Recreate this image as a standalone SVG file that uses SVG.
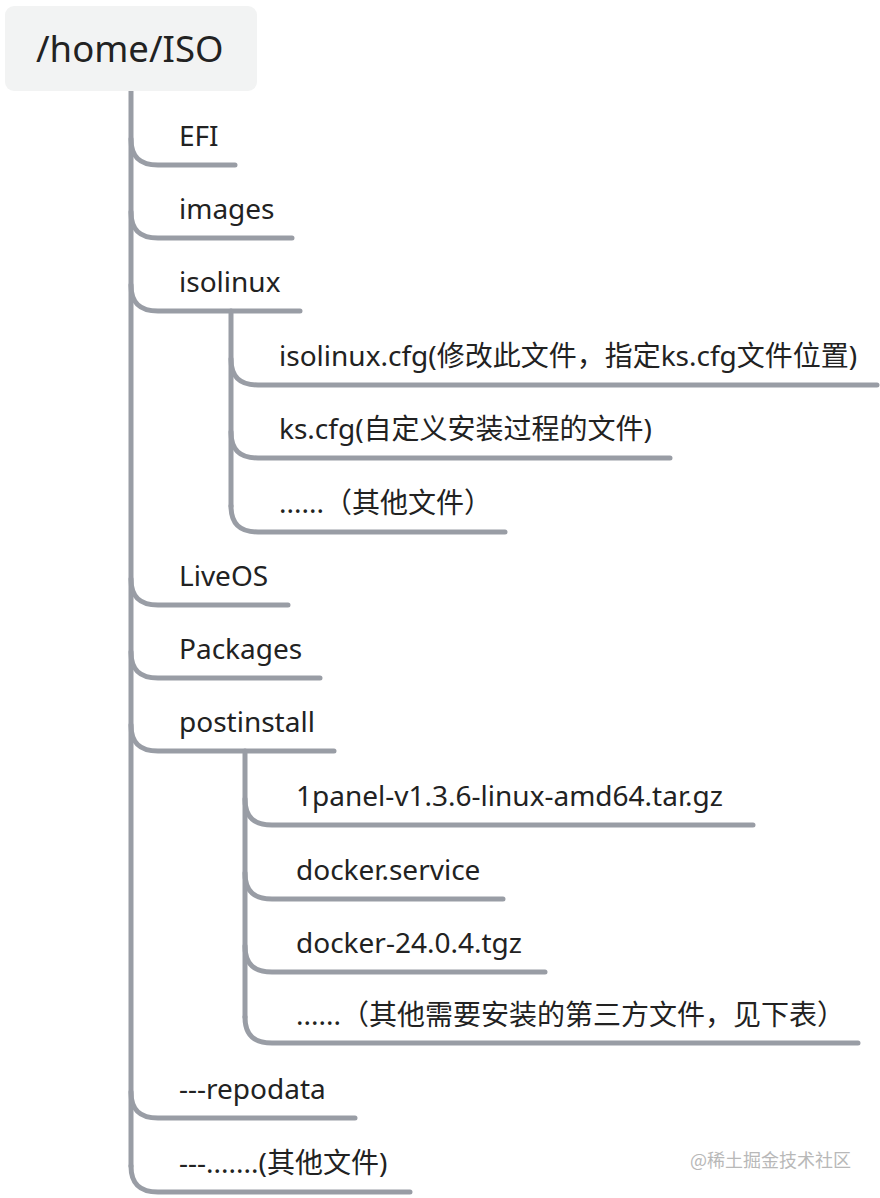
<svg xmlns="http://www.w3.org/2000/svg" width="880" height="1198" viewBox="0 0 880 1198">
<style>
.ln{fill:none;stroke:#999da5;stroke-width:5;stroke-linecap:round;stroke-linejoin:round}
.t{font-family:"Noto Sans","Noto Sans CJK SC",sans-serif;font-size:28px;fill:#222}
.r{font-family:"Noto Sans","Noto Sans CJK SC",sans-serif;font-size:36.5px;fill:#222}
.wm{font-family:"Noto Sans CJK SC",sans-serif;font-size:18px;fill:#b8b8b8}
</style>
<rect width="880" height="1198" fill="#fff"/>
<g id="connectors">
<path class="ln" d="M131,91 V1166"/>
<path class="ln" d="M131,139 C131,157 140,165 158,165 H235"/>
<path class="ln" d="M131,212 C131,230 140,238 158,238 H292"/>
<path class="ln" d="M131,285 C131,303 140,311 158,311 H300"/>
<path class="ln" d="M131,579 C131,597 140,605 158,605 H288"/>
<path class="ln" d="M131,652 C131,670 140,678 158,678 H320"/>
<path class="ln" d="M131,725 C131,743 140,751 158,751 H334"/>
<path class="ln" d="M131,1092 C131,1110 140,1118 158,1118 H355"/>
<path class="ln" d="M131,1166 C131,1184 140,1192 158,1192 H410"/>
<path class="ln" d="M231,311 V506"/>
<path class="ln" d="M231,359 C231,377 240,385 258,385 H877"/>
<path class="ln" d="M231,432 C231,450 240,458 258,458 H670"/>
<path class="ln" d="M231,506 C231,524 240,532 258,532 H505"/>
<path class="ln" d="M245,751 V1017"/>
<path class="ln" d="M245,799 C245,817 254,825 272,825 H753"/>
<path class="ln" d="M245,873 C245,891 254,899 272,899 H503"/>
<path class="ln" d="M245,946 C245,964 254,972 272,972 H545"/>
<path class="ln" d="M245,1017 C245,1035 254,1043 272,1043 H858"/>
</g>
<g id="root"><rect x="5" y="6" width="252" height="85" rx="9" fill="#f2f3f3"/><text class="r" x="36" y="62">/home/ISO</text></g>
<g id="efi"><text class="t" x="179" y="146">EFI</text></g>
<g id="images"><text class="t" x="179" y="219">images</text></g>
<g id="isolinux"><text class="t" x="179" y="292">isolinux</text></g>
<g id="isolinux-cfg"><text class="t" x="279" y="366">isolinux.cfg(修改此文件，指定ks.cfg文件位置)</text></g>
<g id="ks-cfg"><text class="t" x="279" y="439">ks.cfg(自定义安装过程的文件)</text></g>
<g id="iso-other"><text class="t" x="279" y="513">......（其他文件）</text></g>
<g id="liveos"><text class="t" x="179" y="586">LiveOS</text></g>
<g id="packages"><text class="t" x="179" y="659">Packages</text></g>
<g id="postinstall"><text class="t" x="179" y="732">postinstall</text></g>
<g id="onepanel"><text class="t" x="296" y="806">1panel-v1.3.6-linux-amd64.tar.gz</text></g>
<g id="docker-service"><text class="t" x="296" y="880">docker.service</text></g>
<g id="docker-tgz"><text class="t" x="296" y="953">docker-24.0.4.tgz</text></g>
<g id="post-other"><text class="t" x="296" y="1025">......（其他需要安装的第三方文件，见下表）</text></g>
<g id="repodata"><text class="t" x="179" y="1099">---repodata</text></g>
<g id="root-other"><text class="t" x="179" y="1173">---.......(其他文件)</text></g>
<text class="wm" x="690" y="1167">@稀土掘金技术社区</text>
</svg>
